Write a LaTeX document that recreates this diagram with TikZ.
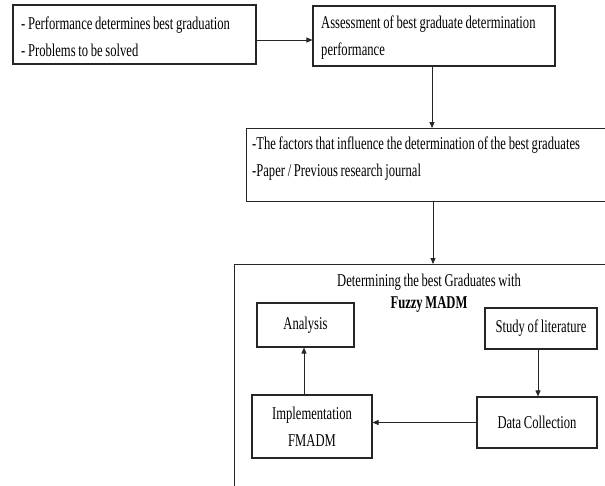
\documentclass[tikz,border=0pt]{standalone}
\usepackage{fontspec}
\setmainfont{Liberation Serif}[FakeStretch=0.7, WordSpace=0.85]
\usetikzlibrary{arrows.meta,calc}
\begin{document}
\begin{tikzpicture}[x=1pt,y=-1pt,
  font=\fontsize{18}{27}\selectfont,
  box/.style={draw=black!85, line width=1.1pt, inner sep=0pt},
  arr/.style={draw=black!85, line width=0.9pt, -{Triangle[length=6pt,width=5pt]}},
  txt/.style={inner sep=0pt}]
\useasboundingbox (0,0) rectangle (605,485);
\fill[white] (0,0) rectangle (605,485);
\clip (0,0) rectangle (605,485);
% top row
\node[box, minimum width=243pt, minimum height=59pt] (b1) at (134.5,34.5) {};
\node[txt, anchor=west, align=left] (b1t) at (21,37)
  {- Performance determines best graduation\\- Problems to be solved};
\node[box, minimum width=242pt, minimum height=60pt] (b2) at (434,36) {};
\node[txt, anchor=west, align=left] (b2t) at (321,38)
  {Assessment of best graduate determination\\performance};
% factors box (extends beyond right edge)
\node[box, minimum width=380pt, minimum height=73pt, anchor=north west] (b3) at (246,128) {};
\node[txt, anchor=west, align=left] (b3t) at (252,159)
  {-The factors that influence the determination of the best graduates\\-Paper / Previous research journal};
% big box (extends beyond right and bottom edges)
\node[box, minimum width=400pt, minimum height=240pt, anchor=north west] (b4) at (234,264) {};
\node[txt, align=center, font=\fontsize{18}{22}\selectfont] (t4) at (429,293)
  {Determining the best Graduates with\\\textbf{Fuzzy MADM}};
% inner boxes
\node[box, minimum width=97pt, minimum height=44pt] (ana) at (305.5,325) {Analysis};
\node[box, minimum width=112pt, minimum height=41pt] (lit) at (541,328.5) {Study of literature};
\node[box, minimum width=120pt, minimum height=51pt] (dc) at (537,422.5) {Data Collection};
\node[box, minimum width=120pt, minimum height=63pt, align=center] (imp) at (312,426.5) {Implementation\\FMADM};
% connectors
\draw[arr] (b1.east |- 0,40) -- (b2.west |- 0,40);
\draw[arr] (b2.south -| 432,0) -- (b3.north -| 432,0);
\draw[arr] (b3.south -| 433,0) -- (b4.north -| 433,0);
\draw[arr] (lit.south -| 538,0) -- (dc.north -| 538,0);
\draw[arr] (dc.west) -- (dc.west -| imp.east);
\draw[arr] (imp.north -| 304,0) -- (ana.south -| 304,0);
\end{tikzpicture}
\end{document}
